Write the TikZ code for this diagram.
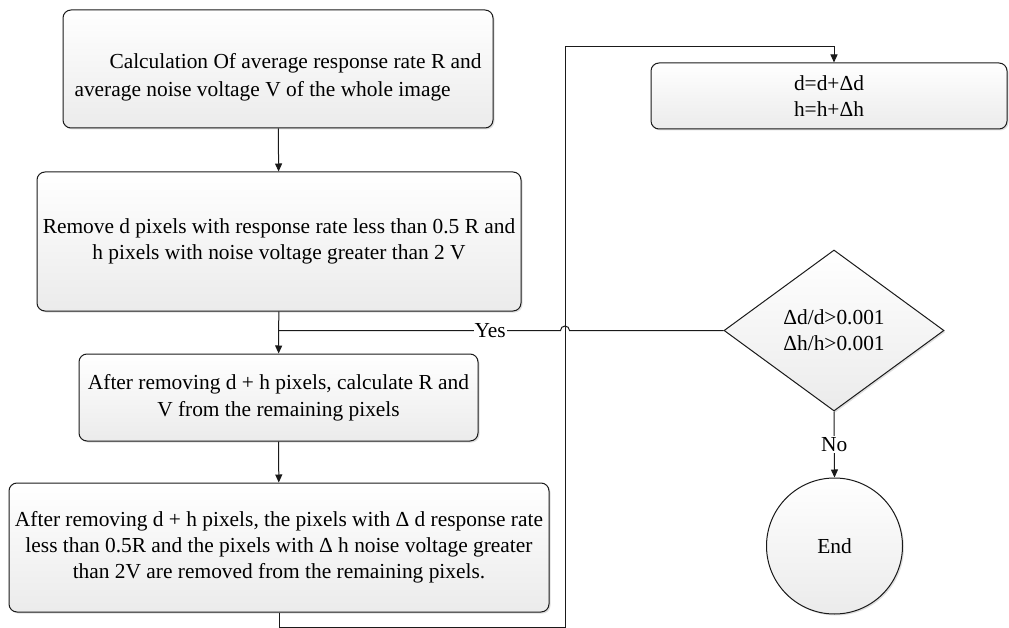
\documentclass[tikz,border=0pt]{standalone}
\usepackage{fontspec}
\setmainfont{Liberation Serif}
\usetikzlibrary{arrows.meta,shapes.geometric,shadows}
\definecolor{fcline}{HTML}{1A1A1A}
\definecolor{fctop}{HTML}{FFFFFF}
\definecolor{fcbot}{HTML}{EBEBEB}

\begin{document}
\begin{tikzpicture}[x=1pt,y=-1pt,
  line width=1pt,draw=fcline,
  every node/.style={font=\fontsize{21.4}{26}\selectfont},
  fcshade/.style={draw=fcline,top color=fctop,bottom color=fcbot,
    drop shadow={shadow xshift=1.5pt,shadow yshift=-1.5pt,opacity=0.25}},
  procbox/.style={fcshade,rectangle,rounded corners=8pt,align=center,inner sep=3pt},
  testbox/.style={fcshade,diamond,aspect=1.37,inner sep=0pt,align=center},
  stopbox/.style={fcshade,circle,inner sep=0pt},
  flow/.style={-{Triangle[length=8pt,width=7pt]}}]
  \useasboundingbox (0,0) rectangle (1009,628);
  \node[procbox,minimum width=430,minimum height=118,align=left,text height=59pt,
    font=\fontsize{21.4}{28}\selectfont] (calc) at (278,69)
    {\hspace*{35pt}Calculation Of average response rate R and\\average noise voltage V of the whole image};
  \node[procbox,minimum width=484,minimum height=139] (remove) at (279,241.5)
    {Remove d pixels with response rate less than 0.5 R and\\h pixels with noise voltage greater than 2 V};
  \node[procbox,minimum width=399,minimum height=87,font=\fontsize{21.4}{27}\selectfont] (recalc) at (278.5,397.5)
    {After removing d + h pixels, calculate R and\\V from the remaining pixels};
  \node[procbox,minimum width=540,minimum height=129] (rmdelta) at (279,547.5)
    {After removing d + h pixels, the pixels with Δ d response rate\\less than 0.5R and the pixels with Δ h noise voltage greater\\than 2V are removed from the remaining pixels.};
  \node[procbox,minimum width=356,minimum height=66] (update) at (829,96)
    {d=d+Δd\\h=h+Δh};
  \node[testbox,minimum width=220,minimum height=161] (check) at (834,330.5)
    {Δd/d>0.001\\Δh/h>0.001};
  \node[stopbox,minimum size=136] (stop) at (834.5,546) {End};
  \coordinate (loopb) at (565,627);
  \coordinate (loopt) at (565,47);
  \coordinate (hopr) at (569.5,330.5);
  \coordinate (join) at (279,330.5);
  \draw[flow] (calc) -- (remove);
  \draw[flow] (remove) -- (recalc);
  \draw[flow] (recalc) -- (rmdelta);
  \draw[flow] (rmdelta.south) -- (rmdelta.south |- loopb) -- (loopb) -- (loopt)
    -- (loopt -| check.north) -- (update.north -| check.north);
  \draw (check.west) -- (hopr) arc (0:-180:4.5) -- (join)
    node[pos=0.25,fill=white,inner sep=1pt] {Yes};
  \draw[flow] (check.south) -- (stop.north) node[pos=0.5,fill=white,inner sep=1pt] {No};
\end{tikzpicture}
\end{document}
